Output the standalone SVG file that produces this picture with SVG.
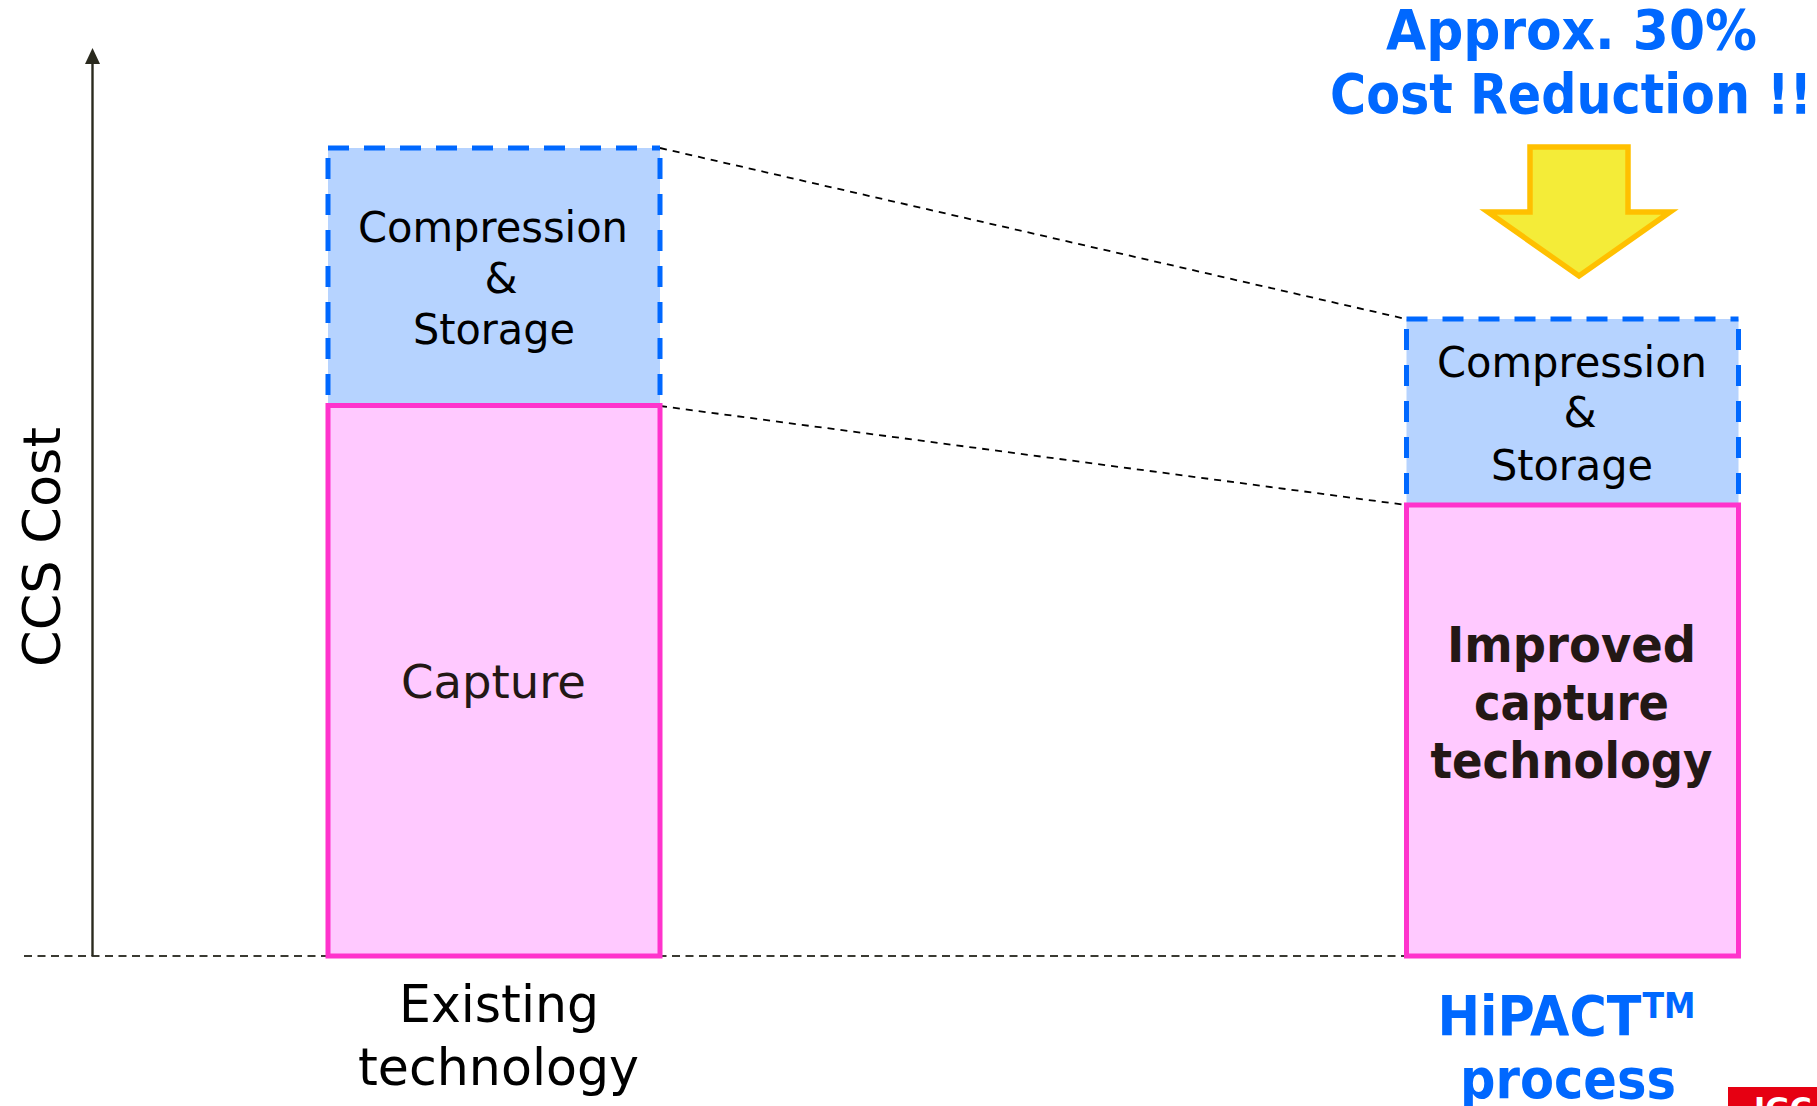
<svg xmlns="http://www.w3.org/2000/svg" width="1817" height="1106" viewBox="0 0 1817 1106">
<style>
text{font-family:"DejaVu Sans","Liberation Sans",sans-serif;text-anchor:middle}
.lbl{font-size:42.500px;fill:#000}
.cap{font-size:47px;fill:#231815}
.big{font-size:51px;fill:#000}
.blue{font-size:55px;font-weight:700;fill:#0068ff}
.bold{font-size:49px;font-weight:700;fill:#231815}
.store{fill:#b6d3ff}
.storeb{fill:none;stroke:#0068ff;stroke-width:5;stroke-dasharray:21 15}
.capt{fill:#ffc9ff;stroke:#ff33cc;stroke-width:5}
.thin{fill:none;stroke:#000;stroke-width:1.800;stroke-dasharray:7 6}
.base{fill:none;stroke:#3a3a32;stroke-width:2.200;stroke-dasharray:8 5.500}
</style>
<rect width="1817" height="1106" fill="#fff"/>
<g id="connectors">
<line class="base" x1="24" y1="956" x2="1406" y2="956"/>
<line class="thin" x1="660" y1="148" x2="1406" y2="319"/>
<line class="thin" x1="660" y1="406" x2="1406" y2="505"/>
<line x1="92.500" y1="956" x2="92.500" y2="62" stroke="#2a2a1e" stroke-width="2.400"/>
<polygon points="92.500,48 100,64 85,64" fill="#2a2a1e"/>
</g>
<text transform="translate(60,547) rotate(-90)" class="big" textLength="240" lengthAdjust="spacingAndGlyphs">CCS Cost</text>
<g id="existing-storage">
<rect x="328" y="148" width="332" height="258" class="store"/>
<path d="M328 148H660M328 158V405M660 158V405" class="storeb"/>
<text class="lbl" x="493" y="242" textLength="270" lengthAdjust="spacingAndGlyphs">Compression</text>
<text class="lbl" x="501" y="293">&amp;</text>
<text class="lbl" x="494" y="344" textLength="162" lengthAdjust="spacingAndGlyphs">Storage</text>
</g>
<g id="existing-capture">
<rect x="328" y="405.500" width="332" height="550.500" class="capt"/>
<text class="cap" x="493.500" y="698" textLength="185" lengthAdjust="spacingAndGlyphs">Capture</text>
</g>
<text class="big" x="499" y="1022" textLength="200" lengthAdjust="spacingAndGlyphs">Existing</text>
<text class="big" x="498.500" y="1085" textLength="281" lengthAdjust="spacingAndGlyphs">technology</text>
<g id="hipact-storage">
<rect x="1406.500" y="319" width="332" height="186" class="store"/>
<path d="M1406.500 319H1738.500M1406.500 329V504M1738.500 329V504" class="storeb"/>
<text class="lbl" x="1572" y="377" textLength="270" lengthAdjust="spacingAndGlyphs">Compression</text>
<text class="lbl" x="1580" y="427">&amp;</text>
<text class="lbl" x="1572" y="480" textLength="162" lengthAdjust="spacingAndGlyphs">Storage</text>
</g>
<g id="hipact-capture">
<rect x="1406.500" y="505" width="332" height="451" class="capt"/>
<text class="bold" x="1571.500" y="662" textLength="249" lengthAdjust="spacingAndGlyphs">Improved</text>
<text class="bold" x="1571.500" y="720" textLength="195" lengthAdjust="spacingAndGlyphs">capture</text>
<text class="bold" x="1571.500" y="778" textLength="282" lengthAdjust="spacingAndGlyphs">technology</text>
</g>
<g id="headline">
<text class="blue" x="1571.500" y="49" textLength="371" lengthAdjust="spacingAndGlyphs">Approx. 30%</text>
<text class="blue" x="1571" y="113" textLength="482" lengthAdjust="spacingAndGlyphs">Cost Reduction !!</text>
</g>
<g id="arrow"><polygon points="1530,147 1628,147 1628,212 1670,212 1579,276 1488,212 1530,212" fill="#f4ec38" stroke="#ffc000" stroke-width="5.500" stroke-miterlimit="10"/></g>
<g id="hipact-label">
<text class="blue" x="1539.500" y="1035" textLength="204" lengthAdjust="spacingAndGlyphs">HiPACT</text>
<text class="blue" x="1669" y="1018" style="font-size:35px" textLength="53" lengthAdjust="spacingAndGlyphs">TM</text>
<text class="blue" x="1568" y="1098" textLength="216" lengthAdjust="spacingAndGlyphs">process</text>
</g>
<g id="logo"><rect x="1728" y="1087" width="89" height="19" fill="#e60012"/>
<text x="1754" y="1119" style="text-anchor:start;font-size:30px;font-weight:700;fill:#fff">JGC</text></g>
</svg>
